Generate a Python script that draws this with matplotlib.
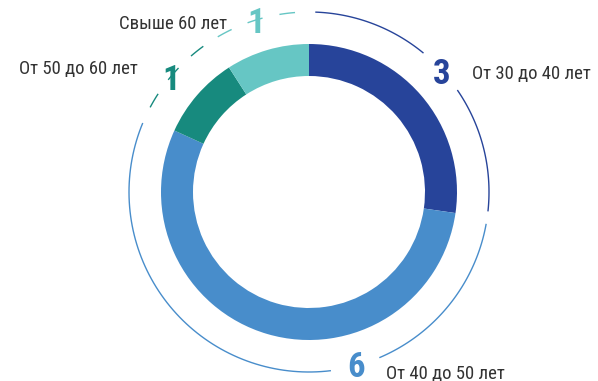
import numpy as np
import matplotlib
matplotlib.use("Agg")
import matplotlib.pyplot as plt

# возрастные группы и число человек
groups = ["От 30 до 40 лет", "От 40 до 50 лет", "От 50 до 60 лет", "Свыше 60 лет"]
counts = [3, 6, 1, 1]
colors = ["#27449a", "#488dcb", "#178a7e", "#66c6c4"]
dashed = [False, False, True, True]

# положение подписей (угол в градусах) и сторона текста
label_angles = [42.5, -75, 140, 107]
num_dy = [-4, -2, -4, -4]
text_side = ["right", "right", "left", "left"]
text_dx = [30, 30, -33, -29]
text_dy = [0.5, -6, 11, 0]

plt.rcParams["font.family"] = ["Roboto Condensed", "DejaVu Sans"]

fig = plt.figure(figsize=(5.98, 3.81), dpi=100)
ax = fig.add_axes([0, 0, 1, 1])

cx, cy = 309, 189
r_out, width = 148, 32
r_line = 180

ax.pie(counts, colors=colors, radius=r_out, center=(cx, cy), startangle=90,
       counterclock=False, wedgeprops=dict(width=width, linewidth=0))

# границы сегментов по часовой стрелке от верха
fracs = np.array(counts) / sum(counts) * 360
starts = 90 - np.concatenate([[0], np.cumsum(fracs)[:-1]])
ends = starts - fracs


def arc(a0, a1, color):
    t = np.radians(np.linspace(a0, a1, 80))
    ax.plot(cx + r_line * np.cos(t), cy + r_line * np.sin(t), color=color,
            lw=1.0, solid_capstyle="butt")


for i in range(len(counts)):
    la = label_angles[i]
    if not dashed[i]:
        arc(starts[i] - 2, la + 8, colors[i])
        arc(la - 8, ends[i] + 2, colors[i])

# пунктир над двумя малыми сегментами
s = starts[2] - 3.5
while s - 5 > ends[3] + 2:
    mid = s - 2.5
    k = 2 if mid > ends[2] else 3
    if all(abs(mid - label_angles[j]) > 6 for j in (2, 3)):
        arc(s, s - 5, colors[k])
    s -= 10.5

for i in range(len(counts)):
    t = np.radians(label_angles[i])
    x, y = cx + r_line * np.cos(t), cy + r_line * np.sin(t) + num_dy[i]
    ax.text(x, y, str(counts[i]), color=colors[i], fontsize=25, fontweight="bold",
            ha="center", va="center")
    ha = "left" if text_side[i] == "right" else "right"
    ax.text(x + text_dx[i], y + text_dy[i], groups[i], color="#333333",
            fontsize=13.5, ha=ha, va="center")

ax.set_xlim(0, 598)
ax.set_ylim(0, 381)
ax.set_aspect("equal")
ax.axis("off")

fig.savefig("out.png", dpi=100)
